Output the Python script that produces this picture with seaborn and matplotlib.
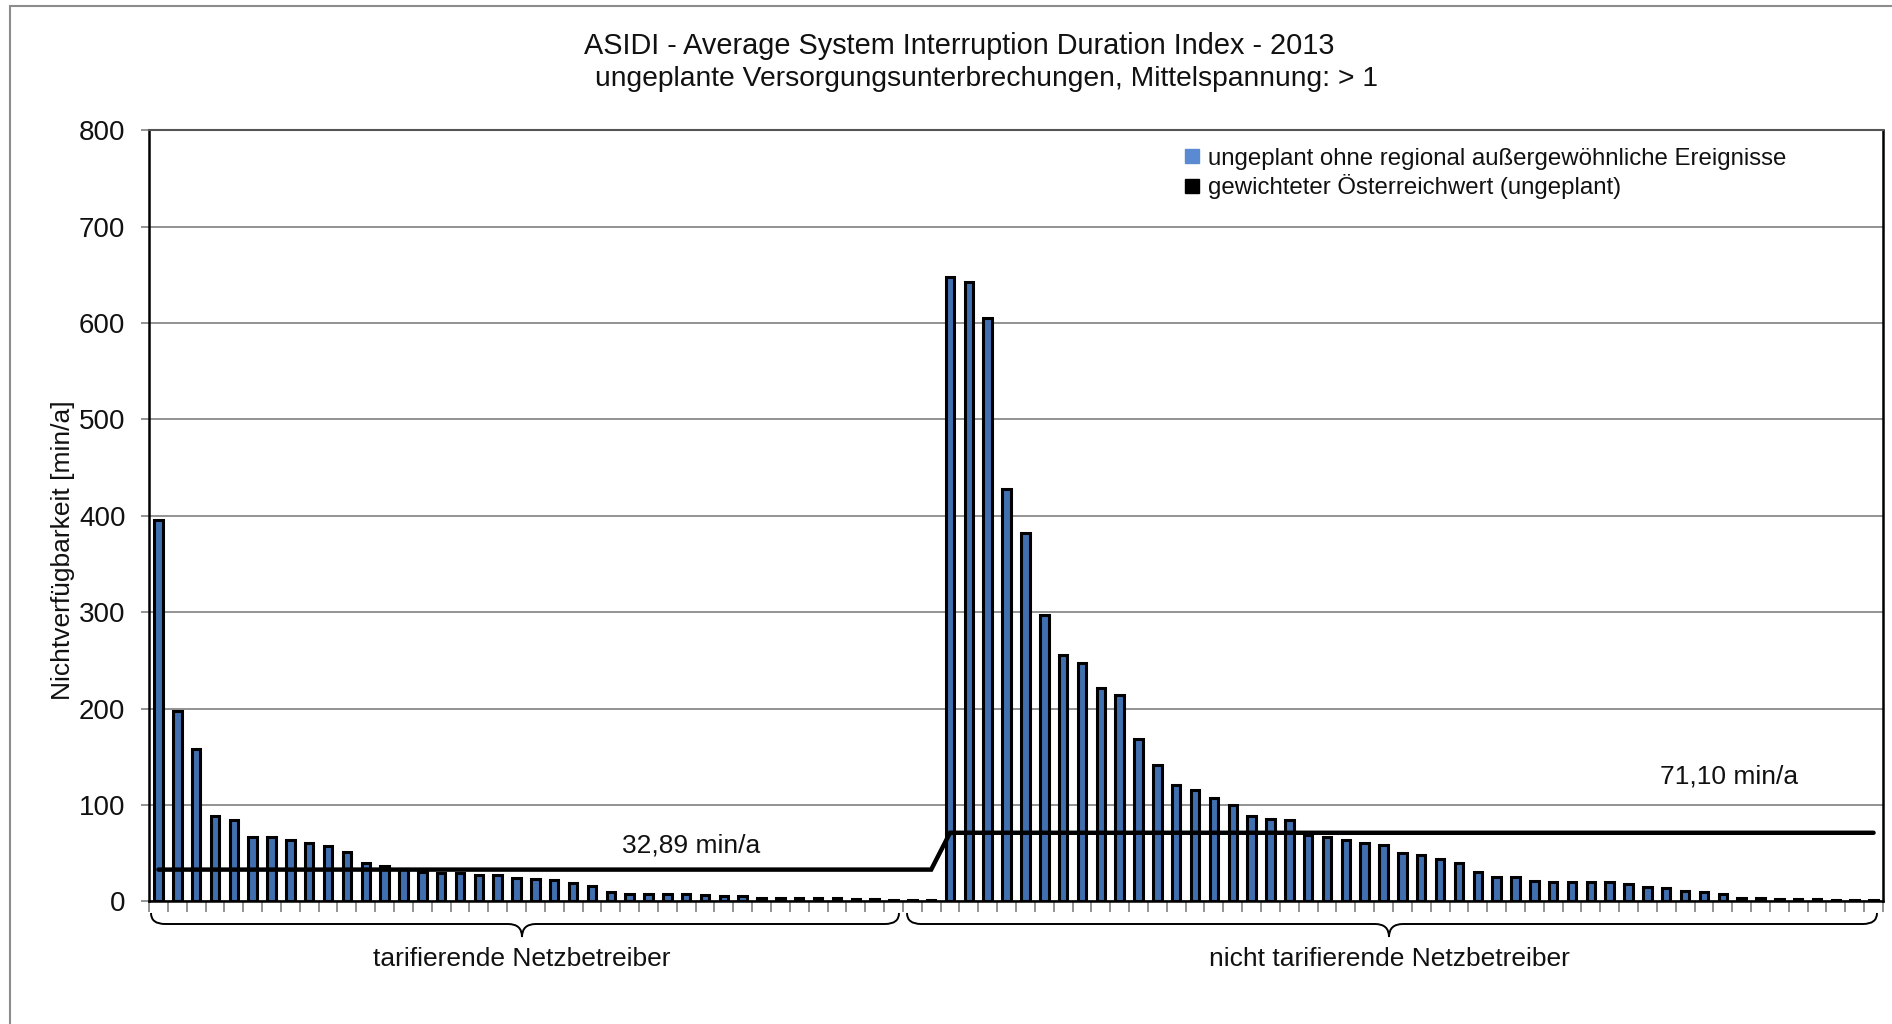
import numpy as np
import pandas as pd
import matplotlib
matplotlib.use("Agg")
import matplotlib.pyplot as plt
import seaborn as sns
from matplotlib.path import Path
from matplotlib.patches import PathPatch, Rectangle
from matplotlib.lines import Line2D

# ---------------- data ----------------
title_line1 = "ASIDI - Average System Interruption Duration Index - 2013"
title_line2 = "ungeplante Versorgungsunterbrechungen, Mittelspannung: > 1"
y_label = "Nichtverfügbarkeit [min/a]"
series_label = "ungeplant ohne regional außergewöhnliche Ereignisse"
avg_label = "gewichteter Österreichwert (ungeplant)"
group_labels = ["tarifierende Netzbetreiber", "nicht tarifierende Netzbetreiber"]

tarif_values = [396, 197, 158, 89, 84, 67, 67, 64, 60, 57, 51, 40, 37, 34, 30, 29,
                29, 27, 27, 24, 23, 22, 19, 16, 10, 8, 8, 8, 8, 7, 5.5, 5, 3.5, 3,
                3, 3, 3, 2.5, 2, 1.5, 1, 1]
nontarif_values = [648, 643, 605, 428, 382, 297, 256, 247, 221, 214, 168, 141, 121,
                   115, 107, 100, 88, 85, 84, 69, 67, 64, 60, 58, 50, 48, 43.5, 39.5,
                   30, 25, 25, 21, 20, 20, 20, 20, 17.5, 14.5, 13.5, 10.5, 10, 8, 3,
                   3, 2.5, 2.5, 2, 1.5, 1.5, 1.5]
tarif_avg = 32.89
nontarif_avg = 71.10
avg_texts = ["32,89 min/a", "71,10 min/a"]
y_ticks = [0, 100, 200, 300, 400, 500, 600, 700, 800]

values = tarif_values + nontarif_values
n = len(values)
operators = [f"NB{i + 1}" for i in range(n)]
avg_line = [tarif_avg] * len(tarif_values) + [nontarif_avg] * len(nontarif_values)
df = pd.DataFrame({"Netzbetreiber": operators, "Wert": values})

# ---------------- style ----------------
W, H = 1892, 1024
sns.set_theme(style="white")
plt.rcParams['font.family'] = ['Liberation Sans', 'DejaVu Sans']
FS = 19
FS_TITLE = 20.8
FS_TITLE2 = 20.3
FS_TICK = 20
FS_LEG = 17.3
bar_color = "#4070B0"
legend_blue = "#5A8AD2"
text_color = "#111111"

fig = plt.figure(figsize=(W / 100, H / 100), dpi=100)
ax = fig.add_axes([149 / W, 1 - 901.3 / H, (1883 - 149) / W, (901.3 - 130.3) / H])

sns.barplot(data=df, x="Netzbetreiber", y="Wert", order=operators, color=bar_color,
            saturation=1, width=0.45, edgecolor="black", linewidth=2.2, ax=ax,
            zorder=2)
ax.plot(operators, avg_line, color="black", lw=3.2, zorder=3,
        solid_joinstyle="miter")

ax.set_xlim(-0.5, n - 0.5)
ax.set_ylim(0, 800)
ax.set_yticks(y_ticks)
ax.set_yticklabels([str(t) for t in y_ticks], fontsize=FS_TICK, color=text_color)
ax.set_xticks(np.arange(-0.5, n, 1.0))
ax.set_xticklabels([])
ax.tick_params(axis="x", direction="out", length=8, width=1.2, color="#808080",
               bottom=True)
ax.tick_params(axis="y", direction="out", length=6, width=1.2, color="#808080",
               left=True, pad=11)
ax.set_xlabel("")
ax.set_ylabel("")
ax.yaxis.grid(True, color="#8a8a8a", lw=1.3)
ax.xaxis.grid(False)
ax.set_axisbelow(True)
for side in ["left", "bottom", "right"]:
    ax.spines[side].set_visible(True)
    ax.spines[side].set_color("black")
    ax.spines[side].set_linewidth(1.8)
ax.spines["top"].set_color("#555555")
ax.spines["top"].set_linewidth(1.5)

fig.text(63 / W, 1 - 550 / H, y_label, rotation=90, ha="center", va="center",
         fontsize=FS, color=text_color)

# average labels
ax.text(28.25, 58, avg_texts[0], ha="center", va="center", fontsize=FS,
        color=text_color)
ax.text(83.35, 130, avg_texts[1], ha="center", va="center", fontsize=FS,
        color=text_color)

# legend
handles = [
    Line2D([], [], marker="s", linestyle="none", markersize=10.5,
           markerfacecolor=legend_blue, markeredgecolor=legend_blue),
    Line2D([], [], marker="s", linestyle="none", markersize=10.5,
           markerfacecolor="black", markeredgecolor="black"),
]
leg = ax.legend(handles, [series_label, avg_label], loc="upper left",
                bbox_to_anchor=(0.592, 0.99), frameon=False, fontsize=FS_LEG,
                handlelength=0.6, handletextpad=0.35, labelspacing=0.2,
                borderaxespad=0)
for t in leg.get_texts():
    t.set_color(text_color)

# titles
fig.text(959 / W, 1 - 45.5 / H, title_line1, ha="center", va="center",
         fontsize=FS_TITLE, color=text_color)
fig.text(986 / W, 1 - 79.5 / H, title_line2, ha="center", va="center",
         fontsize=FS_TITLE2, color=text_color)


def px(x, y):
    return (x / W, 1 - y / H)


def brace(x0, x1, xm, ytop=913, ymid=924, ybot=937, r=14):
    verts = [px(x0, ytop), px(x0, ymid), px(x0 + r, ymid),
             px(xm - r, ymid), px(xm, ymid), px(xm, ybot),
             px(xm, ymid), px(xm + r, ymid),
             px(x1 - r, ymid), px(x1, ymid), px(x1, ytop)]
    codes = [Path.MOVETO, Path.CURVE3, Path.CURVE3,
             Path.LINETO, Path.CURVE3, Path.CURVE3,
             Path.CURVE3, Path.CURVE3,
             Path.LINETO, Path.CURVE3, Path.CURVE3]
    fig.add_artist(PathPatch(Path(verts, codes), transform=fig.transFigure,
                             fill=False, edgecolor="black", lw=1.4))


brace(151, 899, 522)
brace(907, 1877, 1389)
fig.text(522 / W, 1 - 959 / H, group_labels[0], ha="center", va="center",
         fontsize=FS, color=text_color)
fig.text(1389 / W, 1 - 959 / H, group_labels[1], ha="center", va="center",
         fontsize=FS, color=text_color)

# outer chart border
fig.add_artist(Rectangle((10 / W, -0.1), 1.2, 1 - 6 / H + 0.1,
                         transform=fig.transFigure, fill=False,
                         edgecolor="#8c8c8c", lw=1.5))

fig.savefig("out.png", dpi=100)
